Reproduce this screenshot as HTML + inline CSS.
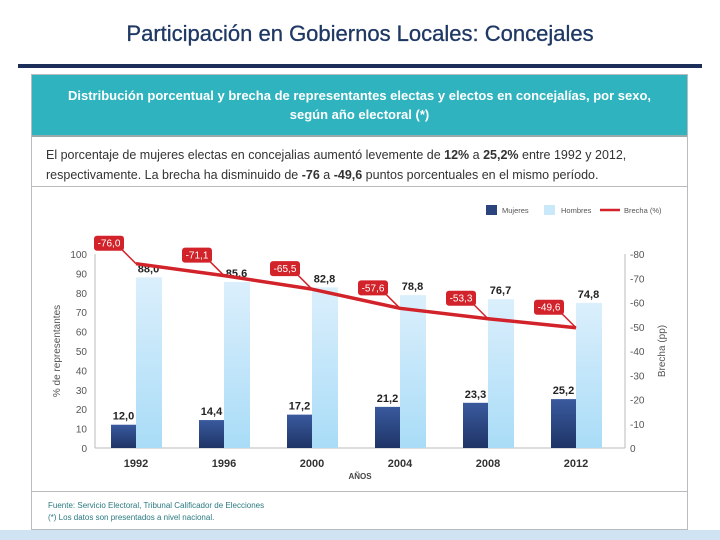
<!DOCTYPE html>
<html><head><meta charset="utf-8">
<style>
body{margin:0;width:720px;height:540px;overflow:hidden;background:#fff;font-family:"Liberation Sans",sans-serif;position:relative}
#title{position:absolute;left:0;width:720px;top:21px;text-align:center;font-size:22px;color:#1f3864;-webkit-text-stroke:0.3px #1f3864}
#rule{position:absolute;left:18px;width:684px;top:64px;height:4px;background:#1c2d5a}
#card{position:absolute;left:31px;top:74px;width:657px;height:456px;border:1px solid #b8bcc0;box-sizing:border-box;background:#fff}
#hdr{position:absolute;left:0;top:0;width:100%;height:60px;background:#2fb3bf;color:#fff;font-weight:bold;font-size:13px;text-align:center;line-height:19px;padding-top:11px;box-sizing:border-box}
#desc{position:absolute;left:0;top:60px;width:100%;height:52px;border-top:2px solid #9aa;border-bottom:1px solid #bbb;box-sizing:border-box;font-size:12.5px;color:#333;padding:8px 14px;line-height:20px}
#foot{position:absolute;left:0;top:416px;width:100%;border-top:1px solid #bbb;font-size:8px;color:#2a7a80;padding:8px 16px;line-height:12px;box-sizing:border-box}
#bottom{position:absolute;left:0;top:530px;width:720px;height:10px;background:#cfe3f3}
svg{position:absolute;left:0;top:0}
</style></head><body>
<div id="title">Participación en Gobiernos Locales: Concejales</div>
<div id="rule"></div>
<div id="card">
<div id="hdr">Distribución porcentual y brecha de representantes electas y electos en concejalías, por sexo,<br>según año electoral (*)</div>
<div id="desc">El porcentaje de mujeres electas en concejalias aumentó levemente de <b>12%</b> a <b>25,2%</b> entre 1992 y 2012, respectivamente. La brecha ha disminuido de <b>-76</b> a <b>-49,6</b> puntos porcentuales en el mismo período.</div>
<div id="foot">Fuente: Servicio Electoral, Tribunal Calificador de Elecciones<br>(*) Los datos son presentados a nivel nacional.</div>
</div>
<div id="bottom"></div>
<svg id="chart" width="720" height="540"></svg>
<script>
const years=["1992","1996","2000","2004","2008","2012"];
const mujeres=[12.0,14.4,17.2,21.2,23.3,25.2];
const hombres=[88.0,85.6,82.8,78.8,76.7,74.8];
const brecha=[-76.0,-71.1,-65.5,-57.6,-53.3,-49.6];
const leftTicks=[0,10,20,30,40,50,60,70,80,90,100];
const rightTicks=[0,-10,-20,-30,-40,-50,-60,-70,-80];
const fmt=v=>v.toFixed(1).replace('.',',');
const svg=document.getElementById('chart');
const NS='http://www.w3.org/2000/svg';
function mk(t,a,txt){const e=document.createElementNS(NS,t);for(const k in a)e.setAttribute(k,a[k]);if(txt!==undefined)e.textContent=txt;svg.appendChild(e);return e;}
const y0=448,yTop=254;
const yL=v=>y0-(v/100)*(y0-yTop);
const yR=v=>y0-(-v/80)*(y0-yTop);
const xC=i=>136+88*i;
const bw=25;
const defs=mk('defs',{});
defs.innerHTML='<linearGradient id="gm" x1="0" y1="0" x2="0" y2="1"><stop offset="0" stop-color="#3a5a9e"/><stop offset="1" stop-color="#1e3466"/></linearGradient><linearGradient id="gh" x1="0" y1="0" x2="0" y2="1"><stop offset="0" stop-color="#dbeffc"/><stop offset="1" stop-color="#a9dcf7"/></linearGradient>';
let e=mk('line',{x1:95,y1:yTop,x2:95,y2:y0,stroke:'#bbb'});

e=mk('line',{x1:95,y1:y0,x2:625,y2:y0,stroke:'#bbb'});

e=mk('line',{x1:625,y1:yTop,x2:625,y2:y0,stroke:'#bbb'});

leftTicks.forEach(v=>{
 e=mk('text',{x:87,y:yL(v)+4,'font-size':10,fill:'#555','text-anchor':'end'},String(v));
 
});
rightTicks.forEach(v=>{
 e=mk('text',{x:630,y:yR(v)+4,'font-size':10,fill:'#555'},String(v));
 
});
e=mk('text',{x:60,y:351,'font-size':10,fill:'#555','text-anchor':'middle',transform:'rotate(-90 60 351)'},'% de representantes');

e=mk('text',{x:665,y:351,'font-size':10,fill:'#555','text-anchor':'middle',transform:'rotate(-90 665 351)'},'Brecha (pp)');

e=mk('text',{x:360,y:479,'font-size':8,'font-weight':'bold',fill:'#444','text-anchor':'middle'},'AÑOS');

years.forEach((yr,i)=>{
 const c=xC(i);
 e=mk('rect',{x:c-bw,y:yL(mujeres[i]),width:bw,height:y0-yL(mujeres[i]),fill:'url(#gm)'});
 
 e=mk('rect',{x:c,y:yL(hombres[i]),width:bw+1,height:y0-yL(hombres[i]),fill:'url(#gh)'});
 
 e=mk('text',{x:c-bw/2,y:yL(mujeres[i])-5,'font-size':11,'font-weight':'bold',fill:'#222','text-anchor':'middle'},fmt(mujeres[i]));
 
 e=mk('text',{x:c+bw/2,y:yL(hombres[i])-5,'font-size':11,'font-weight':'bold',fill:'#222','text-anchor':'middle'},fmt(hombres[i]));
 
 e=mk('text',{x:c,y:467,'font-size':11,'font-weight':'bold',fill:'#333','text-anchor':'middle'},yr);
 
});
const pts=brecha.map((v,i)=>xC(i)+','+yR(v)).join(' ');
e=mk('polyline',{points:pts,fill:'none',stroke:'#d2232a','stroke-width':3.5,'stroke-linejoin':'round'});

brecha.forEach((v,i)=>{
 const px=xC(i),py=yR(v);
 e=mk('line',{x1:px,y1:py,x2:px-14,y2:py-14,stroke:'#d2232a','stroke-width':1.5});
 
 e=mk('rect',{x:px-42,y:py-28,width:30,height:15,rx:3,fill:'#d2232a'});
 
 e=mk('text',{x:px-27,y:py-17,'font-size':10,fill:'#fff','text-anchor':'middle'},fmt(v));
 
});
e=mk('rect',{x:486,y:205,width:11,height:10,fill:'#2b447e'});

e=mk('text',{x:502,y:213,'font-size':7.5,fill:'#555'},'Mujeres');

e=mk('rect',{x:544,y:205,width:11,height:10,fill:'#c9e8fa'});

e=mk('text',{x:561,y:213,'font-size':7.5,fill:'#555'},'Hombres');

e=mk('line',{x1:600,y1:210,x2:620,y2:210,stroke:'#d2232a','stroke-width':2.5});

e=mk('text',{x:624,y:213,'font-size':7.5,fill:'#555'},'Brecha (%)');

</script>
</body></html>
